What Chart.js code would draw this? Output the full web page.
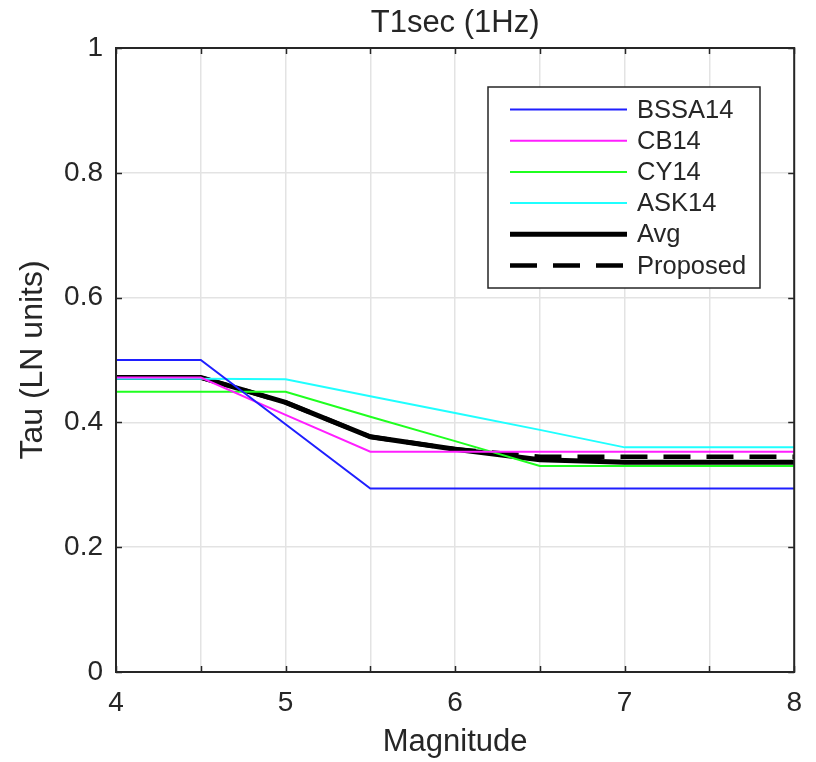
<!DOCTYPE html>
<html>
<head>
<meta charset="utf-8">
<script src="https://cdn.jsdelivr.net/npm/chart.js@4/dist/chart.umd.min.js"></script>
<style>
html,body{margin:0;padding:0;background:#fff;}
#wrap{width:816px;height:762px;}
</style>
</head>
<body>
<div id="wrap"><canvas id="c" width="816" height="762"></canvas></div>
<script>
const magnitudes = [4, 4.5, 5, 5.5, 6, 6.5, 7, 7.5, 8];
const bssa14   = [0.500, 0.500, 0.397, 0.294, 0.294, 0.294, 0.294, 0.294, 0.294];
const cb14     = [0.472, 0.472, 0.412, 0.353, 0.353, 0.353, 0.353, 0.353, 0.353];
const cy14     = [0.449, 0.449, 0.449, 0.409, 0.370, 0.330, 0.330, 0.330, 0.330];
const ask14    = [0.470, 0.470, 0.469, 0.442, 0.415, 0.388, 0.360, 0.360, 0.360];
const avg      = [0.472, 0.472, 0.432, 0.377, 0.357, 0.340, 0.336, 0.336, 0.336];
const proposed = [0.472, 0.472, 0.432, 0.377, 0.357, 0.345, 0.345, 0.345, 0.345];
const xTicks = [4, 5, 6, 7, 8];
const yTicks = [0, 0.2, 0.4, 0.6, 0.8, 1];
const titleText = 'T1sec (1Hz)';

const FONT = "'Liberation Sans', Arial, Helvetica, sans-serif";
const TXT = '#262626';

function pts(arr){ return magnitudes.map((m,i)=>({x:m, y:arr[i]})); }

const datasets = [
  {label:'BSSA14', data:pts(bssa14), borderColor:'#1f1fff', borderWidth:2},
  {label:'CB14', data:pts(cb14), borderColor:'#ff1fff', borderWidth:2},
  {label:'CY14', data:pts(cy14), borderColor:'#1fff1f', borderWidth:2},
  {label:'ASK14', data:pts(ask14), borderColor:'#1fffff', borderWidth:2},
  {label:'Avg', data:pts(avg), borderColor:'#000000', borderWidth:5},
  {label:'Proposed', data:pts(proposed), borderColor:'#000000', borderWidth:4.5, borderDash:[27,16]}
].map(d=>Object.assign({pointRadius:0, tension:0, fill:false}, d));

const boxPlugin = {
  id:'boxPlugin',
  afterDatasetsDraw(chart){
    const {ctx, chartArea:a, scales:{x, y}} = chart;
    ctx.save();
    // inward ticks
    ctx.strokeStyle = TXT; ctx.lineWidth = 1.5;
    const tl = 6;
    x.ticks.forEach(t=>{
      const px = Math.round(x.getPixelForValue(t.value))+0.5;
      ctx.beginPath(); ctx.moveTo(px, a.bottom); ctx.lineTo(px, a.bottom-tl); ctx.stroke();
      ctx.beginPath(); ctx.moveTo(px, a.top); ctx.lineTo(px, a.top+tl); ctx.stroke();
    });
    y.ticks.forEach(t=>{
      const py = Math.round(y.getPixelForValue(t.value))+0.5;
      ctx.beginPath(); ctx.moveTo(a.left, py); ctx.lineTo(a.left+tl, py); ctx.stroke();
      ctx.beginPath(); ctx.moveTo(a.right, py); ctx.lineTo(a.right-tl, py); ctx.stroke();
    });
    // box
    ctx.lineWidth = 2;
    ctx.strokeRect(a.left, a.top, a.right-a.left, a.bottom-a.top);

    // title centred over the axes
    ctx.fillStyle = TXT;
    ctx.font = '31px ' + FONT;
    ctx.textAlign = 'center';
    ctx.textBaseline = 'middle';
    ctx.fillText(titleText, (a.left+a.right)/2, 23);

    // legend
    const L = 488, T = 87, R = 760, B = 288;
    ctx.fillStyle = '#fff';
    ctx.fillRect(L, T, R-L, B-T);
    ctx.lineWidth = 1.5; ctx.strokeStyle = TXT;
    ctx.strokeRect(L, T, R-L, B-T);
    ctx.font = '25.5px ' + FONT;
    ctx.textBaseline = 'middle';
    ctx.textAlign = 'left';
    chart.data.datasets.forEach((d, i)=>{
      const cy = 109.5 + i*31.2;
      ctx.strokeStyle = d.borderColor;
      ctx.lineWidth = d.borderWidth;
      ctx.setLineDash(d.borderDash || []);
      ctx.beginPath(); ctx.moveTo(510, cy); ctx.lineTo(627, cy); ctx.stroke();
      ctx.setLineDash([]);
      ctx.fillStyle = TXT;
      ctx.fillText(d.label, 637, cy+1);
    });
    ctx.restore();
  }
};

new Chart(document.getElementById('c'), {
  type:'line',
  data:{datasets},
  plugins:[boxPlugin],
  options:{
    responsive:false,
    animation:false,
    layout:{padding:{left:0, right:17, top:48, bottom:0}},
    plugins:{
      legend:{display:false},
      tooltip:{enabled:false},
      title:{display:false}
    },
    scales:{
      x:{type:'linear', min:4, max:8,
        afterFit(s){ s.height = 90; },
        ticks:{stepSize:0.5, color:TXT, font:{family:FONT, size:28}, padding:14, maxRotation:0, autoSkip:false,
          callback:(v)=> xTicks.includes(v) ? String(v) : ''},
        grid:{color:'#e3e3e3', lineWidth:1.5, drawTicks:false},
        border:{display:false},
        title:{display:true, text:'Magnitude', color:TXT, font:{family:FONT, size:31, lineHeight:1.2}, padding:{top:0,bottom:1}}
      },
      y:{type:'linear', min:0, max:1,
        afterFit(s){ s.width = 116; },
        ticks:{stepSize:0.2, color:TXT, font:{family:FONT, size:28}, padding:13,
          callback:(v)=>{ const m = yTicks.find(t=>Math.abs(t-v)<1e-9); return m===undefined ? '' : String(m); }},
        grid:{color:'#e3e3e3', lineWidth:1.5, drawTicks:false},
        border:{display:false},
        title:{display:true, text:'Tau (LN units)', color:TXT, font:{family:FONT, size:32, lineHeight:1.2}, padding:{top:14,bottom:0}}
      }
    }
  }
});
</script>
</body>
</html>
